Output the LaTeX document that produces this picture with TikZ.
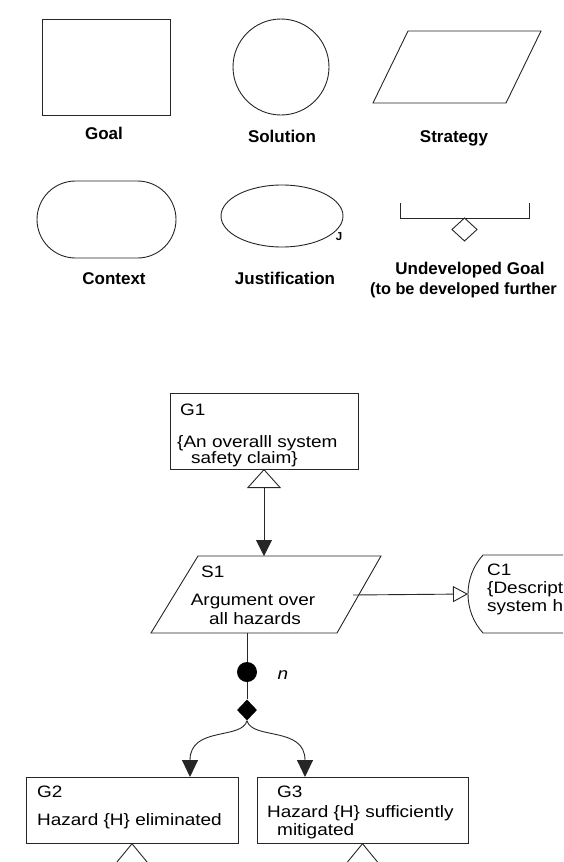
\documentclass[tikz,border=0pt]{standalone}
\usepackage{fontspec}
\setmainfont{Liberation Sans}
\newfontfamily\dfont[FakeStretch=1.15]{Liberation Sans}
\usetikzlibrary{arrows.meta,shapes.geometric}
\begin{document}
\begin{tikzpicture}[x=1pt,y=-1pt,
  line/.style={draw=black!85, line width=0.9pt},
  shp/.style={line, inner sep=0pt, outer sep=0pt},
  leg/.style={font=\fontsize{17}{17}\selectfont\bfseries, inner sep=0pt, anchor=base},
  txt/.style={font=\dfont\fontsize{16.5}{16.5}\selectfont, inner sep=0pt, anchor=base west},
  filltip/.style={-{Triangle[length=17pt,width=16pt]}},
]
\useasboundingbox (0,0) rectangle (563,862);
\clip (0,0) rectangle (563,862);

% ---------------- legend ----------------
\node[shp, rectangle, minimum width=128pt, minimum height=96pt] (goal) at (106,67) {};
\node[leg] (goallbl) at (104,139) {Goal};

\node[shp, circle, minimum size=96pt] (sol) at (281,67) {};
\node[leg] (sollbl) at (282,142) {Solution};

\coordinate (st1) at (408,31);
\coordinate (st2) at (541,31);
\coordinate (st3) at (506,103);
\coordinate (st4) at (373,103);
\draw[line] (st1) -- (st2) -- (st3) -- (st4) -- cycle;
\node[leg] (strlbl) at (454,142) {Strategy};

\node[shp, rectangle, rounded corners=38.5pt, minimum width=139pt, minimum height=77pt] (ctx) at (106.5,219.5) {};
\node[leg] (ctxlbl) at (114,284) {Context};

\node[shp, ellipse, minimum width=122pt, minimum height=62pt] (just) at (282,216) {};
\node[font=\fontsize{11.5}{11.5}\selectfont\bfseries, inner sep=0pt] (jmark) at (339,237) {J};
\node[leg] (justlbl) at (285,284) {Justification};

\coordinate (ub1) at (400,203);
\coordinate (ub2) at (400,218);
\coordinate (ub3) at (529,218);
\coordinate (ub4) at (529,203);
\draw[line] (ub1) -- (ub2) -- (ub3) -- (ub4);
\node[shp, diamond, minimum width=25pt, minimum height=23pt] (und) at (464.5,229.5) {};
\node[leg] (undlbl1) at (470,274) {Undeveloped Goal};
\node[leg, anchor=base west, font=\fontsize{16.3}{16.3}\selectfont\bfseries] (undlbl2) at (370,294) {(to be developed further};

% ---------------- argument ----------------
\node[shp, rectangle, minimum width=188pt, minimum height=76pt] (G1) at (264,431) {};
\node[txt] (G1id) at (180,415) {G1};
\node[txt] (G1a) at (177,447) {\{An overalll system};
\node[txt] (G1b) at (191,463) {safety claim\}};

\coordinate (s1a) at (198,556);
\coordinate (s1b) at (381,556);
\coordinate (s1c) at (337,633);
\coordinate (s1d) at (151,633);
\draw[line] (s1a) -- (s1b) -- (s1c) -- (s1d) -- cycle;
\coordinate (s1top) at (264,556);
\coordinate (s1out) at (353,595);
\coordinate (s1bot) at (247,633);
\node[txt] (S1id) at (201,577) {S1};
\node[txt, anchor=base] (S1a) at (253,605) {Argument over};
\node[txt, anchor=base] (S1b) at (255,624) {all hazards};

\draw[line] (563,555) -- (483,555) .. controls (473,566) and (468,580) .. (468,594)
  .. controls (468,608) and (473,622) .. (483,633) -- (563,633);
\coordinate (c1in) at (468,594);
\node[txt] (C1id) at (487,575) {C1};
\node[txt] (C1a) at (487,593) {\{Descript};
\node[txt] (C1b) at (487,611) {system h};

\draw[line, {Triangle[open,length=19pt,width=34pt]}-{Triangle[length=16pt,width=16pt]}] (G1.south) -- (s1top);
\draw[line, -{Triangle[open,length=15pt,width=16pt]}] (s1out) -- (c1in);

\node[circle, fill=black, minimum size=20pt, inner sep=0pt] (multi) at (247,672) {};
\node[font=\dfont\itshape\fontsize{16.5}{16.5}\selectfont, inner sep=0pt] (nlbl) at (283,675) {n};
\node[diamond, fill=black, minimum width=20pt, minimum height=21pt, inner sep=0pt] (opt) at (247,710) {};
\draw[line] (s1bot) -- (multi.north);
\draw[line] (multi.south) -- (opt.north);

\node[shp, rectangle, minimum width=212pt, minimum height=66pt] (G2) at (132,810) {};
\node[txt] (G2id) at (37,797) {G2};
\node[txt] (G2a) at (37,825) {Hazard \{H\} eliminated};

\node[shp, rectangle, minimum width=211pt, minimum height=66pt] (G3) at (362.5,810) {};
\node[txt] (G3id) at (277,797) {G3};
\node[txt] (G3a) at (267,817) {Hazard \{H\} sufficiently};
\node[txt] (G3b) at (277,835) {mitigated};

\coordinate (g2in) at (190,777);
\coordinate (g3in) at (305,777);
\draw[line, filltip] (opt.south) .. controls (242,740) and (190,726) .. (g2in);
\draw[line, filltip] (opt.south) .. controls (252,740) and (305,726) .. (g3in);

\coordinate (g2dn) at (132,905);
\coordinate (g3dn) at (362.5,905);
\draw[line, {Triangle[open,length=22pt,width=36pt]}-] (G2.south) -- (g2dn);
\draw[line, {Triangle[open,length=22pt,width=36pt]}-] (G3.south) -- (g3dn);
\end{tikzpicture}
\end{document}
